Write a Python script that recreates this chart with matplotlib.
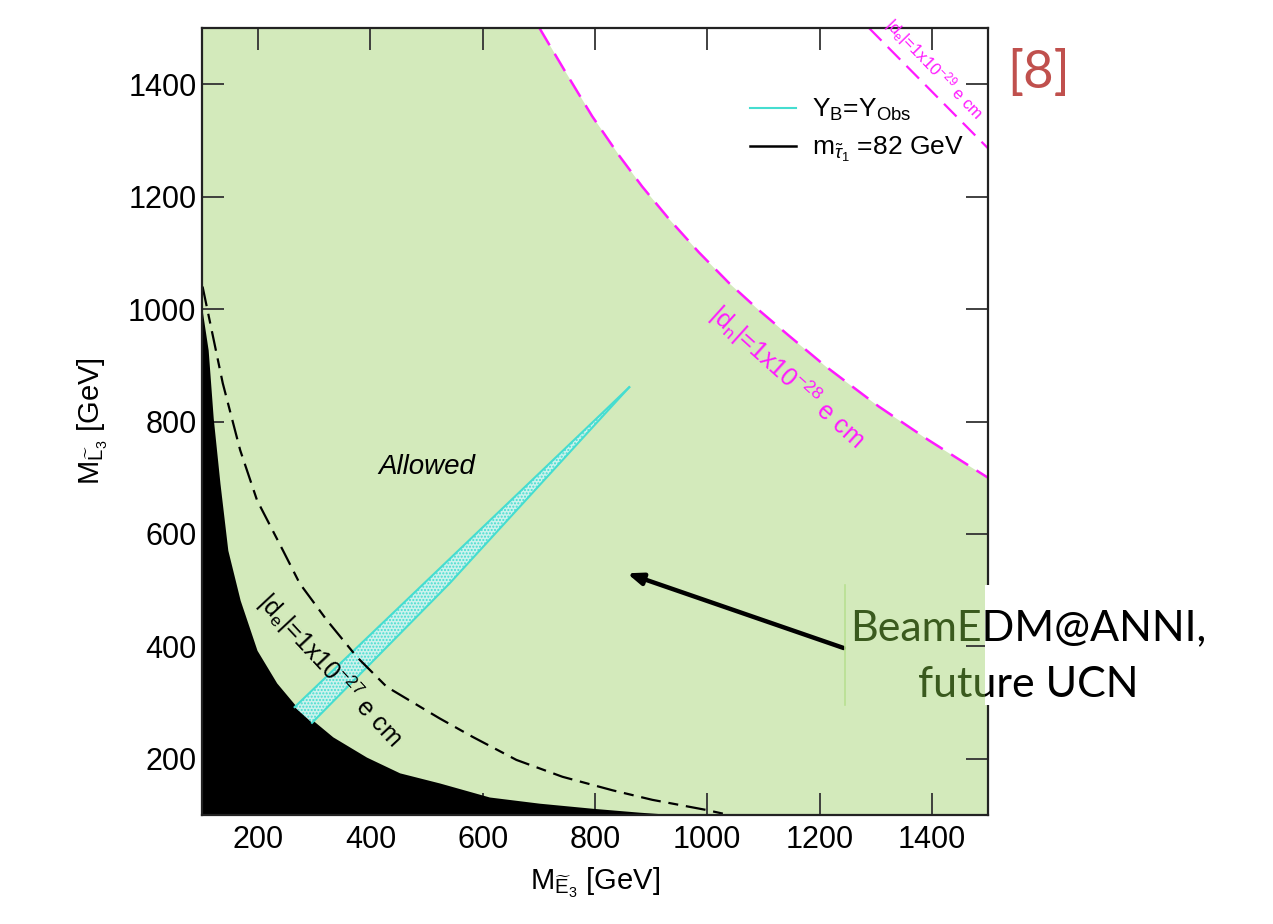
import matplotlib
matplotlib.use('Agg')
import matplotlib.pyplot as plt
from matplotlib.lines import Line2D
from matplotlib.patches import Rectangle
import numpy as np

plt.rcParams['font.family'] = ['Liberation Sans', 'DejaVu Sans']
plt.rcParams['mathtext.fontset'] = 'custom'
plt.rcParams['mathtext.rm'] = 'Liberation Sans'
plt.rcParams['mathtext.it'] = 'Liberation Sans:italic'
plt.rcParams['mathtext.bf'] = 'Liberation Sans:bold'

# excluded region (black), lower-left corner
x_black = [100, 111, 120, 132, 146, 168, 198, 233, 269, 333, 393, 452, 523, 612, 701, 795, 879, 950]
y_black = [1000, 927, 806, 690, 571, 482, 393, 335, 292, 239, 203, 175, 157, 132, 121, 112, 105, 100]

# m_stau = 82 GeV contour (black dashed)
x_stau = [101, 137, 168, 198, 244, 274, 322, 376, 429, 523, 582, 660, 742, 831, 902, 998, 1039]
y_stau = [1040, 868, 749, 660, 571, 512, 447, 381, 328, 272, 239, 198, 168, 144, 127, 109, 100]

# |d_n| = 1e-28 e cm contour (magenta)
x_dn = [701, 749, 795, 843, 884, 932, 985, 1039, 1092, 1145, 1211, 1305, 1394, 1500]
y_dn = [1500, 1419, 1343, 1273, 1218, 1160, 1101, 1046, 998, 953, 898, 827, 767, 700]

# |d_e| = 1e-29 e cm contour (magenta)
x_de29 = [1288, 1394, 1500]
y_de29 = [1500, 1393, 1286]

# Y_B = Y_Obs band edges
band_x_up = [265, 861]
band_y_up = [292, 861]
band_x_lo = [296, 541, 861]
band_y_lo = [264, 512, 861]

ticks = [200, 400, 600, 800, 1000, 1200, 1400]

green = '#d3eabb'
cyan = '#45ddd0'
mag = '#ff1aff'

fig = plt.figure(figsize=(12.73, 9.24), dpi=100)
ax = fig.add_axes([202/1273, 1-815/924, 786/1273, 787/924])
ax.set_xlim(100, 1500)
ax.set_ylim(100, 1500)

# allowed region below the neutron EDM bound
xf = [100] + x_dn
yf = [1500] + y_dn
ax.fill_between(xf, 100, yf, color=green, lw=0, zorder=1)
ax.fill_between(x_black, 100, y_black, color='black', lw=0, zorder=2)

# baryon asymmetry band
bx = band_x_up + band_x_lo[::-1]
by = band_y_up + band_y_lo[::-1]
ax.fill(bx, by, facecolor='#cdf2ec', edgecolor=cyan, hatch='.....', lw=0, zorder=3)
ax.plot(band_x_up, band_y_up, color=cyan, lw=1.5, zorder=4)
ax.plot(band_x_lo, band_y_lo, color=cyan, lw=1.5, zorder=4)

ax.plot(x_stau, y_stau, color='black', lw=1.6, dashes=(9, 3.5, 4.5, 3.5), zorder=5)
ax.plot(x_dn, y_dn, color=mag, lw=1.8, dashes=(8, 4), zorder=5)
ax.plot(x_de29, y_de29, color=mag, lw=1.6, dashes=(8, 4), zorder=5)

ax.set_xticks(ticks)
ax.set_yticks(ticks)
ax.tick_params(direction='in', length=16, width=1.3, labelsize=22,
               top=True, right=True, colors='#333333', labelcolor='black')
ax.tick_params(axis='x', pad=7)
ax.tick_params(axis='y', pad=4)
for s in ax.spines.values():
    s.set_linewidth(1.6)
    s.set_color('#222222')
    s.set_zorder(6)

ax.set_xlabel(r'$\mathrm{M}_{\widetilde{\mathrm{E}}_3}$ [GeV]', fontsize=21, labelpad=8)
ax.set_ylabel(r'$\mathrm{M}_{\widetilde{\mathrm{L}}_3}$ [GeV]', fontsize=21, labelpad=13)

# labels on the curves
ax.text(500, 719, 'Allowed', fontsize=20, style='italic', ha='center', va='center', zorder=7)
ax.text(1142, 879, r'$|\mathrm{d}_\mathrm{n}|$=1x10$^{-28}$ e cm', color=mag, fontsize=18,
        rotation=-42, ha='center', va='center', rotation_mode='anchor', zorder=7)
ax.text(328, 358, r'$|\mathrm{d}_\mathrm{e}|$=1x10$^{-27}$ e cm', color='black', fontsize=18,
        rotation=-47, ha='center', va='center', rotation_mode='anchor', zorder=7)
ax.text(1405, 1427, r'$|\mathrm{d}_\mathrm{e}|$=1x10$^{-29}$ e cm', color=mag, fontsize=12,
        rotation=-46, ha='center', va='center', rotation_mode='anchor', zorder=7)

handles = [Line2D([], [], color=cyan, lw=1.5), Line2D([], [], color='black', lw=1.8)]
labels = [r'$\mathrm{Y_B}$=$\mathrm{Y_{Obs}}$', r'$\mathrm{m}_{\tilde{\tau}_1}$ =82 GeV']
ax.legend(handles, labels, loc='upper left', bbox_to_anchor=(0.697, 0.912), frameon=False,
          fontsize=19, handlelength=1.75, handletextpad=0.6, labelspacing=0.45,
          borderpad=0, borderaxespad=0)

# arrow to the allowed region
ax.annotate('', xy=(857, 530), xytext=(1243, 397),
            arrowprops=dict(arrowstyle='-|>,head_length=0.9,head_width=0.35',
                            color='black', lw=3.2, shrinkA=0, shrinkB=0), zorder=8)

# white gap over the right spine and box edge
fig.patches.append(Rectangle((985/1273, 1-705/924), 12/1273, 120/924,
                             transform=fig.transFigure, facecolor='white', edgecolor='none', zorder=2))
fig.add_artist(Line2D([845/1273, 845/1273], [1-585/924, 1-705/924], transform=fig.transFigure,
                      color='#b8e091', lw=1.2, zorder=2))

clip_in = Rectangle((0, 0), 985/1273, 1, transform=fig.transFigure)
clip_out = Rectangle((985/1273, 0), 1, 1, transform=fig.transFigure)
for line, yy in [('BeamEDM@ANNI,', 640), ('future UCN', 697)]:
    for col, cp in [('#3a5a1e', clip_in), ('black', clip_out)]:
        t = fig.text(1028/1273, 1-yy/924, line, fontsize=31, family=['Lato', 'DejaVu Sans'],
                     color=col, ha='center', va='baseline', zorder=5)
        t.set_clip_on(True)
        t.set_clip_path(cp)

fig.text(1039/1273, 1-73/924, '[8]', fontsize=38, family=['Lato', 'DejaVu Sans'],
         color='#c0504d', ha='center', va='center')

fig.savefig('out.png', dpi=100)
